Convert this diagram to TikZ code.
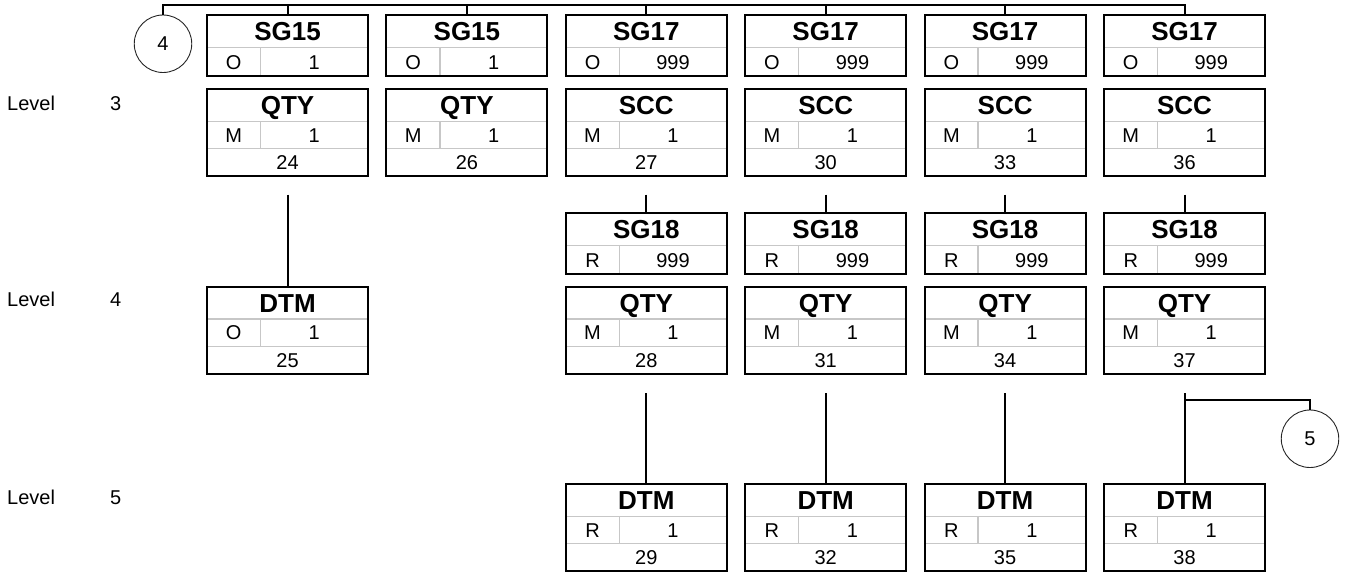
\documentclass[tikz,border=0pt]{standalone}
\usepackage{fontspec}
\setmainfont{Liberation Sans}
\tikzset{
  x=1pt, y=-1pt,
  frame/.style={draw=black, line width=2pt, minimum width=161pt, inner sep=0pt},
  divline/.style={draw=black!22, line width=1.3pt},
  conn/.style={draw=black, line width=2pt},
  ttl/.style={anchor=base, inner sep=0pt, font=\fontsize{26}{30}\selectfont\bfseries},
  txt/.style={anchor=base, inner sep=0pt, font=\fontsize{20}{24}\selectfont},
  circ/.style={draw=black!85, line width=0.9pt, circle, minimum size=57.5pt, inner sep=0pt, font=\fontsize{20}{24}\selectfont},
}
\newcommand\segbox[7]{%
 \begin{scope}[shift={(#2,#3)}]
  \draw[divline] (0,32.5) -- (161,32.5);
  \draw[divline] (0,59.75) -- (161,59.75);
  \draw[divline] (53.5,32.5) -- (53.5,59.75);
  \node[frame, minimum height=87pt] (#1) at (80.5,43.5) {};
  \node[ttl] (#1-t) at (80.5,25.5) {#4};
  \node[txt] (#1-s) at (26.75,53.3) {#5};
  \node[txt] (#1-r) at (107.25,53.3) {#6};
  \node[txt] (#1-n) at (80.5,80.6) {#7};
 \end{scope}}
\newcommand\grpbox[6]{%
 \begin{scope}[shift={(#2,#3)}]
  \draw[divline] (0,32.5) -- (161,32.5);
  \draw[divline] (53.5,32.5) -- (53.5,61);
  \node[frame, minimum height=61pt] (#1) at (80.5,30.5) {};
  \node[ttl] (#1-t) at (80.5,25.5) {#4};
  \node[txt] (#1-s) at (26.75,54) {#5};
  \node[txt] (#1-r) at (107.25,54) {#6};
 \end{scope}}
\begin{document}
\begin{tikzpicture}
\useasboundingbox (0,0) rectangle (1346,574);
% level labels
\node[txt, anchor=base west] (lv3) at (7,110.2) {Level};
\node[txt, anchor=base west] (lv3n) at (110,110.2) {3};
\node[txt, anchor=base west] (lv4) at (7,306.7) {Level};
\node[txt, anchor=base west] (lv4n) at (110,306.7) {4};
\node[txt, anchor=base west] (lv5) at (7,504.2) {Level};
\node[txt, anchor=base west] (lv5n) at (110,504.2) {5};
% row 1 groups
\grpbox{g1}{207}{15}{SG15}{O}{1}
\grpbox{g2}{386.4}{15}{SG15}{O}{1}
\grpbox{g3}{565.8}{15}{SG17}{O}{999}
\grpbox{g4}{745.2}{15}{SG17}{O}{999}
\grpbox{g5}{924.6}{15}{SG17}{O}{999}
\grpbox{g6}{1104}{15}{SG17}{O}{999}
% row 1 segments
\segbox{q24}{207}{89}{QTY}{M}{1}{24}
\segbox{q26}{386.4}{89}{QTY}{M}{1}{26}
\segbox{s27}{565.8}{89}{SCC}{M}{1}{27}
\segbox{s30}{745.2}{89}{SCC}{M}{1}{30}
\segbox{s33}{924.6}{89}{SCC}{M}{1}{33}
\segbox{s36}{1104}{89}{SCC}{M}{1}{36}
% row 2 groups
\grpbox{h3}{565.8}{213}{SG18}{R}{999}
\grpbox{h4}{745.2}{213}{SG18}{R}{999}
\grpbox{h5}{924.6}{213}{SG18}{R}{999}
\grpbox{h6}{1104}{213}{SG18}{R}{999}
% row 2 segments
\segbox{d25}{207}{286.5}{DTM}{O}{1}{25}
\segbox{q28}{565.8}{286.5}{QTY}{M}{1}{28}
\segbox{q31}{745.2}{286.5}{QTY}{M}{1}{31}
\segbox{q34}{924.6}{286.5}{QTY}{M}{1}{34}
\segbox{q37}{1104}{286.5}{QTY}{M}{1}{37}
% row 3 segments
\segbox{d29}{565.8}{484}{DTM}{R}{1}{29}
\segbox{d32}{745.2}{484}{DTM}{R}{1}{32}
\segbox{d35}{924.6}{484}{DTM}{R}{1}{35}
\segbox{d38}{1104}{484}{DTM}{R}{1}{38}
% circles
\node[circ] (c4) at (163,43.75) {4};
\node[circ] (c5) at (1310,438.75) {5};
% top bus
\draw[conn] (c4.north) -- ++(0,-9.5) coordinate (busL) -| (g6.north);
\foreach \g in {g1,g2,g3,g4,g5} \draw[conn] (\g.north) -- (\g.north |- busL);
% level 3 -> 4
\coordinate (k24) at ([yshift=-17.5pt]q24.south);
\draw[conn] (k24) -- (d25.north);
\foreach \s/\h in {s27/h3,s30/h4,s33/h5,s36/h6}{
  \coordinate (k\s) at ([yshift=-17.5pt]\s.south);
  \draw[conn] (k\s) -- (\h.north);
}
% level 4 -> 5
\foreach \q/\d in {q28/d29,q31/d32,q34/d35,q37/d38}{
  \coordinate (k\q) at ([yshift=-18.5pt]\q.south);
  \draw[conn] (k\q) -- (\d.north);
}
% circle 5 link
\draw[conn] (c5.north) -- ++(0,-10) coordinate (j5) -- (j5 -| d38.north);
\end{tikzpicture}
\end{document}
